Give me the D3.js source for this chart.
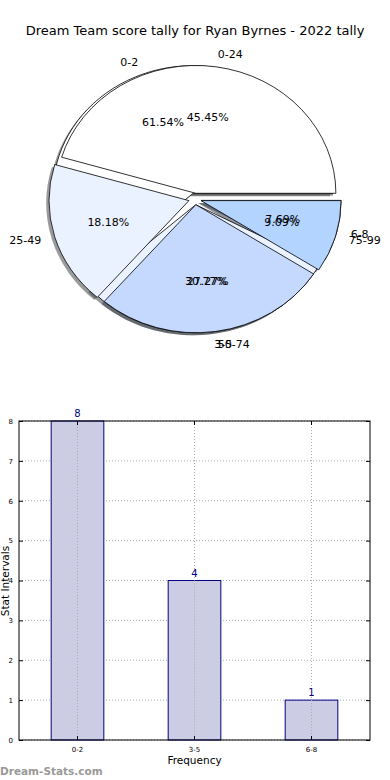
<!DOCTYPE html>
<html>
<head>
<meta charset="utf-8">
<script src="https://cdn.jsdelivr.net/npm/d3@7"></script>
<style>
  body { margin: 0; background: #fff; }
  svg { display: block; font-family: "DejaVu Sans", sans-serif; }
</style>
</head>
<body>
<div id="chart"></div>
<script>
// Data
var titleText = "Dream Team score tally for Ryan Byrnes - 2022 tally";
var freqLabels = ["0-2", "3-5", "6-8"];
var freqCounts = [8, 4, 1];
var scoreLabels = ["0-24", "25-49", "50-74", "75-99"];
var scoreCounts = [5, 2, 3, 1];
var yTicks = [0, 1, 2, 3, 4, 5, 6, 7, 8];
var sliceColors = ["#ffffff", "#eaf1ff", "#c5d9ff", "#b3d4ff"];

var width = 390, height = 780;

var svg = d3.select("#chart").append("svg")
    .attr("width", width)
    .attr("height", height);

svg.append("text")
    .attr("x", 195)
    .attr("y", 35)
    .attr("text-anchor", "middle")
    .style("font-size", "13px")
    .text(titleText);

// ---- Pie (matplotlib style, elliptical, exploded, with shadow) ----
var pieCx = 195, pieCy = 199, rx = 140, ry = 128;
var explode = 0.045;

var pie = d3.pie().sort(null)
    .startAngle(Math.PI / 2)
    .endAngle(Math.PI / 2 - 2 * Math.PI);

var arc = d3.arc().innerRadius(0).outerRadius(1);

function makeSlices(labels, counts) {
    var total = d3.sum(counts);
    return pie(counts).map(function (d, i) {
        var mid = (d.startAngle + d.endAngle) / 2;
        return {
            arc: d, label: labels[i], color: sliceColors[i],
            pct: (d.data / total * 100).toFixed(2) + "%",
            dx: Math.sin(mid), dy: -Math.cos(mid)
        };
    });
}

var pies = [makeSlices(freqLabels, freqCounts), makeSlices(scoreLabels, scoreCounts)];

var pieG = svg.append("g")
    .attr("transform", "translate(" + pieCx + "," + pieCy + ") scale(" + rx + "," + ry + ")");

// shadows go under every wedge
pies.forEach(function (slices) {
    pieG.selectAll(null).data(slices).enter().append("path")
        .attr("d", function (d) { return arc(d.arc); })
        .attr("transform", function (d) {
            return "translate(" + (explode * d.dx - 0.02) + "," + (explode * d.dy + 0.02) + ")";
        })
        .attr("fill", function (d) {
            var c = d3.rgb(d.color);
            return d3.rgb(c.r * 0.3, c.g * 0.3, c.b * 0.3);
        })
        .attr("fill-opacity", 0.55);
});

pies.forEach(function (slices) {
    pieG.selectAll(null).data(slices).enter().append("path")
        .attr("d", function (d) { return arc(d.arc); })
        .attr("transform", function (d) {
            return "translate(" + (explode * d.dx) + "," + (explode * d.dy) + ")";
        })
        .attr("fill", function (d) { return d.color; })
        .attr("stroke", "#000")
        .attr("stroke-width", 0.8)
        .attr("vector-effect", "non-scaling-stroke");
});

pies.forEach(function (slices) {
    svg.selectAll(null).data(slices).enter().append("text")
        .attr("x", function (d) { return pieCx + (1.1 + explode) * rx * d.dx; })
        .attr("y", function (d) { return pieCy + (1.1 + explode) * ry * d.dy; })
        .attr("dy", "0.35em")
        .attr("text-anchor", function (d) { return d.dx > 0 ? "start" : "end"; })
        .style("font-size", "11px")
        .text(function (d) { return d.label; });

    svg.selectAll(null).data(slices).enter().append("text")
        .attr("x", function (d) { return pieCx + (0.6 + explode) * rx * d.dx; })
        .attr("y", function (d) { return pieCy + (0.6 + explode) * ry * d.dy; })
        .attr("dy", "0.35em")
        .attr("text-anchor", "middle")
        .style("font-size", "11px")
        .text(function (d) { return d.pct; });
});

// ---- Bar chart ----
var plot = { left: 19, right: 370, top: 421, bottom: 740 };

var x = d3.scaleBand()
    .domain(freqLabels)
    .range([plot.left, plot.right])
    .paddingInner(0.55)
    .paddingOuter(0.275);

var y = d3.scaleLinear()
    .domain([0, 8])
    .range([plot.bottom, plot.top]);

var barG = svg.append("g");

// grid
barG.selectAll(null).data(yTicks).enter().append("line")
    .attr("x1", plot.left).attr("x2", plot.right)
    .attr("y1", function (d) { return y(d); })
    .attr("y2", function (d) { return y(d); })
    .attr("stroke", "#aaa")
    .attr("stroke-dasharray", "1,2");

barG.selectAll(null).data(freqLabels).enter().append("line")
    .attr("x1", function (d) { return x(d) + x.bandwidth() / 2; })
    .attr("x2", function (d) { return x(d) + x.bandwidth() / 2; })
    .attr("y1", plot.top).attr("y2", plot.bottom)
    .attr("stroke", "#aaa")
    .attr("stroke-dasharray", "1,2");

// bars
barG.selectAll("rect.bar").data(freqCounts).enter().append("rect")
    .attr("class", "bar")
    .attr("x", function (d, i) { return x(freqLabels[i]); })
    .attr("y", function (d) { return y(d); })
    .attr("width", x.bandwidth())
    .attr("height", function (d) { return y(0) - y(d); })
    .attr("fill", "#cccce5")
    .attr("stroke", "#000080")
    .attr("stroke-width", 1);

// grid lines showing through bars
barG.selectAll(null).data(freqLabels).enter().append("line")
    .attr("x1", function (d) { return x(d) + x.bandwidth() / 2; })
    .attr("x2", function (d) { return x(d) + x.bandwidth() / 2; })
    .attr("y1", function (d, i) { return y(freqCounts[i]); }).attr("y2", plot.bottom)
    .attr("stroke", "#aaa")
    .attr("stroke-dasharray", "1,2");

barG.selectAll(null).data(freqCounts).enter().append("text")
    .attr("x", function (d, i) { return x(freqLabels[i]) + x.bandwidth() / 2; })
    .attr("y", function (d) { return y(d) - 4; })
    .attr("text-anchor", "middle")
    .attr("fill", "#000080")
    .style("font-size", "10px")
    .text(function (d) { return d; });

// axes with inward ticks
var yAxisL = d3.axisLeft(y).tickValues(yTicks).tickSize(-4).tickPadding(6).tickFormat(d3.format("d"));
var yAxisR = d3.axisRight(y).tickValues(yTicks).tickSize(-4).tickFormat("");
var xAxisB = d3.axisBottom(x).tickSize(-4).tickPadding(7);
var xAxisT = d3.axisTop(x).tickSize(-4).tickFormat("");

function styleAxis(g) {
    g.select(".domain").remove();
    g.selectAll("text").style("font-size", "7px").style("font-family", "DejaVu Sans, sans-serif");
}

barG.append("g").attr("transform", "translate(" + plot.left + ",0)").call(yAxisL).call(styleAxis);
barG.append("g").attr("transform", "translate(" + plot.right + ",0)").call(yAxisR).call(styleAxis);
barG.append("g").attr("transform", "translate(0," + plot.bottom + ")").call(xAxisB).call(styleAxis);
barG.append("g").attr("transform", "translate(0," + plot.top + ")").call(xAxisT).call(styleAxis);

barG.append("rect")
    .attr("x", plot.left).attr("y", plot.top)
    .attr("width", plot.right - plot.left)
    .attr("height", plot.bottom - plot.top)
    .attr("fill", "none")
    .attr("stroke", "#000")
    .attr("stroke-width", 1);

svg.append("text")
    .attr("x", (plot.left + plot.right) / 2)
    .attr("y", 764)
    .attr("text-anchor", "middle")
    .style("font-size", "10.5px")
    .text("Frequency");

svg.append("text")
    .attr("transform", "translate(8.5,581) rotate(-90)")
    .attr("text-anchor", "middle")
    .style("font-size", "10.5px")
    .text("Stat Intervals");

svg.append("text")
    .attr("x", 0)
    .attr("y", 775)
    .attr("fill", "#999")
    .style("font-size", "10.5px")
    .style("font-weight", "bold")
    .text("Dream-Stats.com");
</script>
</body>
</html>
